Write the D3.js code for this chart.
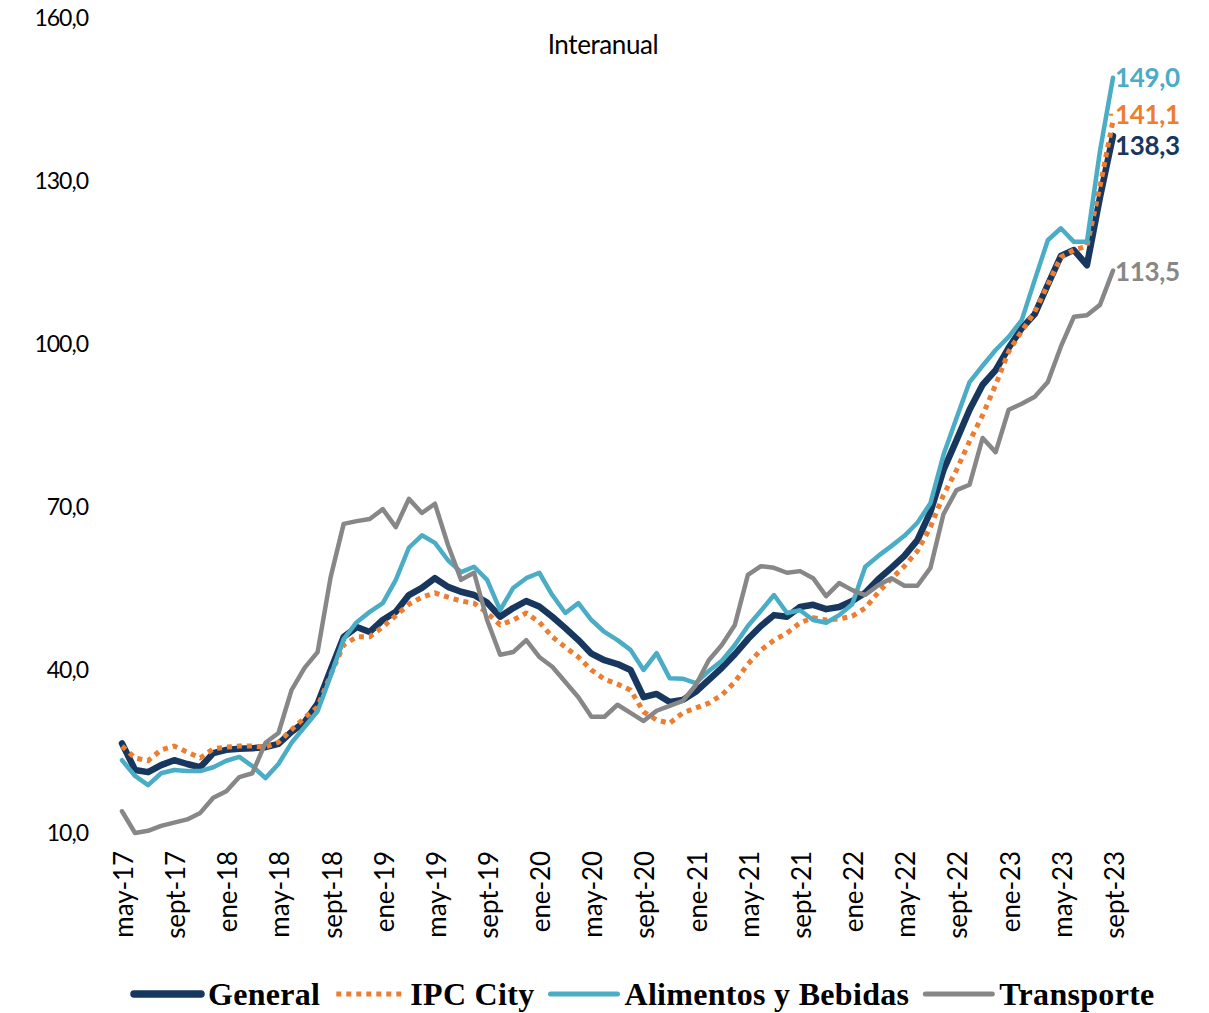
<!DOCTYPE html>
<html>
<head>
<meta charset="utf-8">
<script src="https://cdn.jsdelivr.net/npm/d3@7"></script>
<style>
  body { margin: 0; background: #ffffff; }
  svg { display: block; }
</style>
</head>
<body>
<svg id="chart" width="1209" height="1013"></svg>
<script>
// Monthly categories, may-17 … sept-23
const monthNames = ["ene", "feb", "mar", "abr", "may", "jun", "jul", "ago", "sept", "oct", "nov", "dic"];
const categories = [];
for (let k = 0; k < 77; k++) {
  categories.push(monthNames[(4 + k) % 12] + "-" + (17 + Math.floor((4 + k) / 12)));
}

const tickLabels = ["may-17", "sept-17", "ene-18", "may-18", "sept-18", "ene-19", "may-19", "sept-19",
  "ene-20", "may-20", "sept-20", "ene-21", "may-21", "sept-21", "ene-22", "may-22", "sept-22",
  "ene-23", "may-23", "sept-23"];

const yTicks = [10, 40, 70, 100, 130, 160];

// Year-on-year variation (%)
const general = [
  26.5, 21.6, 21.2, 22.5, 23.4, 22.7, 22.1, 24.7, 25.3, 25.5,
  25.6, 25.8, 26.4, 28.6, 30.4, 33.8, 40.0, 46.1, 47.9, 47.0,
  49.2, 50.7, 53.8, 55.1, 56.9, 55.3, 54.4, 53.8, 52.4, 49.8,
  51.4, 52.7, 51.7, 49.8, 47.7, 45.5, 43.0, 41.8, 41.1, 40.0,
  35.0, 35.6, 34.1, 34.5, 36.0, 38.2, 40.4, 42.9, 45.7, 48.1,
  50.1, 49.8, 51.6, 52.0, 51.2, 51.6, 52.7, 54.2, 56.7, 58.8,
  61.0, 63.9, 69.1, 76.8, 82.3, 87.9, 92.5, 95.2, 99.3, 102.9,
  105.5, 110.9, 116.2, 117.3, 114.5, 127.0, 138.3
];

const ipcCity = [
  26.0, 23.8, 23.3, 25.3, 26.0, 24.9, 23.8, 25.5, 25.8, 26.0,
  26.0, 25.8, 26.7, 29.0, 31.2, 33.2, 39.1, 44.6, 46.1, 46.1,
  47.9, 50.0, 52.1, 53.4, 54.2, 53.4, 52.7, 52.3, 50.5, 48.3,
  49.2, 50.5, 48.8, 46.1, 44.2, 42.4, 40.0, 38.3, 37.4, 36.3,
  32.3, 30.8, 30.2, 32.1, 33.0, 33.9, 35.4, 37.8, 41.1, 43.7,
  45.5, 46.8, 48.7, 49.6, 49.2, 49.4, 49.9, 51.4, 54.3, 56.8,
  59.1, 61.9, 66.3, 72.2, 76.8, 82.1, 86.9, 92.5, 98.6, 102.4,
  105.9, 110.9, 116.0, 117.3, 118.0, 129.0, 141.1
];

const alimentos = [
  23.4, 20.5, 18.8, 21.0, 21.6, 21.4, 21.4, 22.1, 23.3, 24.0,
  22.3, 20.1, 22.7, 26.6, 29.5, 32.4, 38.9, 45.7, 48.8, 50.7,
  52.3, 56.6, 62.5, 64.8, 63.4, 60.2, 58.0, 59.0, 56.6, 51.0,
  55.1, 56.9, 57.9, 53.8, 50.5, 52.3, 49.2, 47.0, 45.5, 43.7,
  40.0, 43.1, 38.5, 38.4, 37.6, 39.8, 41.7, 44.6, 48.1, 50.9,
  53.8, 50.5, 51.0, 49.2, 48.7, 50.1, 52.1, 59.0, 61.0, 62.8,
  64.7, 67.1, 70.7, 79.6, 86.4, 93.0, 96.0, 98.9, 101.3, 104.4,
  111.8, 119.1, 121.3, 118.8, 118.8, 135.5, 149.0
];

const transporte = [
  14.0, 10.0, 10.4, 11.3, 11.9, 12.5, 13.7, 16.5, 17.7, 20.3,
  21.0, 26.6, 28.4, 36.3, 40.4, 43.3, 57.1, 66.9, 67.4, 67.8,
  69.6, 66.3, 71.5, 68.9, 70.6, 63.0, 56.6, 57.9, 49.2, 42.8,
  43.3, 45.5, 42.4, 40.6, 37.8, 35.0, 31.4, 31.4, 33.6, 32.1,
  30.6, 32.5, 33.4, 34.3, 37.2, 41.8, 44.6, 48.3, 57.5, 59.1,
  58.8, 57.9, 58.2, 56.9, 53.6, 56.0, 54.7, 53.8, 55.6, 56.9,
  55.5, 55.5, 58.8, 68.7, 73.1, 74.1, 82.7, 80.1, 87.9, 89.0,
  90.3, 93.0, 99.5, 105.0, 105.3, 107.2, 113.5
];

const seriesNames = ["General", "IPC City", "Alimentos y Bebidas", "Transporte"];
const seriesValues = [general, ipcCity, alimentos, transporte];

// Drawing styles per series
const styles = [
  { color: "#17375E", width: 6.5, dash: null, labelDy: 10, legendWidth: 7.5 },
  { color: "#ED7D31", width: 5, dash: "5,5", labelDy: -6, legendWidth: 5 },
  { color: "#4BACC6", width: 4.5, dash: null, labelDy: 0, legendWidth: 5 },
  { color: "#878787", width: 4.5, dash: null, labelDy: 1, legendWidth: 5 }
];

const svg = d3.select("#chart");
const fmt = v => v.toFixed(1).replace(".", ",");
const sansFont = "Lato, 'Open Sans', sans-serif";

const x = d3.scalePoint().domain(categories).range([122, 1113]);
const y = d3.scaleLinear().domain([10, 160]).range([833, 18]);

// Title
svg.append("text")
  .attr("x", 603).attr("y", 54)
  .attr("text-anchor", "middle")
  .style("font-family", sansFont)
  .style("font-size", "26px")
  .style("letter-spacing", "-0.4px")
  .style("fill", "#000")
  .text("Interanual");

// Y axis (labels only)
const yAxis = svg.append("g")
  .attr("transform", "translate(91,0)")
  .call(d3.axisLeft(y).tickValues(yTicks).tickFormat(fmt).tickSize(0).tickPadding(3));
yAxis.select(".domain").remove();
yAxis.selectAll("text")
  .style("font-family", sansFont)
  .style("font-size", "23px")
  .style("letter-spacing", "-1px")
  .style("fill", "#000");

// X axis (rotated labels only)
const xAxis = svg.append("g")
  .attr("transform", "translate(0,833)")
  .call(d3.axisBottom(x).tickValues(tickLabels).tickSize(0));
xAxis.select(".domain").remove();
xAxis.selectAll("text")
  .attr("transform", "rotate(-90)")
  .attr("x", -18).attr("y", 0).attr("dy", "0.4em")
  .attr("text-anchor", "end")
  .style("font-family", sansFont)
  .style("font-size", "26px")
  .style("letter-spacing", "-0.1px")
  .style("fill", "#000");

// Lines
const line = d3.line()
  .x((d, i) => x(categories[i]))
  .y(d => y(d));

seriesValues.forEach((vals, s) => {
  const st = styles[s];
  svg.append("path")
    .datum(vals)
    .attr("d", line)
    .attr("fill", "none")
    .attr("stroke", st.color)
    .attr("stroke-width", st.width)
    .attr("stroke-linejoin", "round")
    .attr("stroke-linecap", st.dash ? "butt" : "round")
    .attr("stroke-dasharray", st.dash);
});

// End-of-series value labels
const lastCat = categories[categories.length - 1];
seriesValues.forEach((vals, s) => {
  const st = styles[s];
  const v = vals[vals.length - 1];
  svg.append("text")
    .attr("x", x(lastCat) + 2)
    .attr("y", y(v) + st.labelDy)
    .attr("dy", "0.35em")
    .style("font-family", sansFont)
    .style("font-weight", "700")
    .style("font-size", "26px")
    .style("letter-spacing", "-0.3px")
    .style("fill", st.color)
    .text(fmt(v));
});
// leader tick for the IPC City label
svg.append("line")
  .attr("x1", x(lastCat) - 4).attr("x2", x(lastCat))
  .attr("y1", y(ipcCity[ipcCity.length - 1]) - 6).attr("y2", y(ipcCity[ipcCity.length - 1]) - 6)
  .attr("stroke", styles[1].color).attr("stroke-width", 2);

// Legend
const legend = svg.append("g").attr("transform", "translate(131,994)");
let lx = 0;
seriesNames.forEach((name, s) => {
  const st = styles[s];
  legend.append("line")
    .attr("x1", lx + 3).attr("x2", lx + 70)
    .attr("y1", 0).attr("y2", 0)
    .attr("stroke", st.color)
    .attr("stroke-width", st.legendWidth)
    .attr("stroke-linecap", st.dash ? "butt" : "round")
    .attr("stroke-dasharray", st.dash);
  const t = legend.append("text")
    .attr("x", lx + 77).attr("y", 0).attr("dy", "0.33em")
    .style("font-family", "'Liberation Serif', 'DejaVu Serif', serif")
    .style("font-weight", "700")
    .style("font-size", "32px")
    .style("letter-spacing", "0.3px")
    .style("fill", "#000")
    .text(name);
  lx += 77 + t.node().getComputedTextLength() + 13;
});
</script>
</body>
</html>
